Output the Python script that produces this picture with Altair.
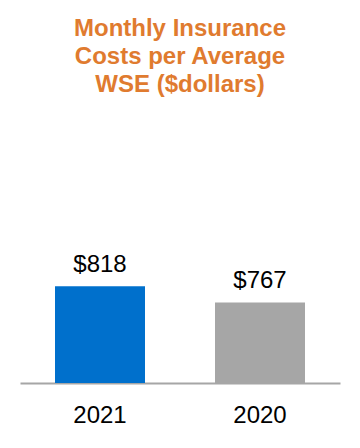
import altair as alt
import pandas as pd

years = ["2021", "2020"]
costs = [818, 767]
labels = ["$818", "$767"]
bar_colors = ["#0070CC", "#A6A6A6"]

df = pd.DataFrame({"year": years, "cost": costs, "label": labels})

x = alt.X("year:N", sort=years,
          scale=alt.Scale(paddingInner=0, paddingOuter=0),
          axis=alt.Axis(title=None, labelAngle=0, ticks=False, domainColor="#A6A6A6",
                        domainWidth=2, labelFontSize=24, labelColor="#000000",
                        labelFont="Liberation Sans", labelPadding=20))
y = alt.Y("cost:Q", scale=alt.Scale(domain=[515, 1000], zero=False, clamp=True), axis=None)

bars = alt.Chart(df).mark_bar(size=90).encode(
    x=x, y=y,
    color=alt.Color("year:N", scale=alt.Scale(domain=years, range=bar_colors), legend=None),
)
text = alt.Chart(df).mark_text(baseline="alphabetic", dy=-14, fontSize=24,
                               font="Liberation Sans", color="#000000").encode(
    x=x, y=y, text="label:N"
)

chart = (bars + text).properties(
    width=320, height=155,
    padding={"left": 12, "right": 12, "top": 9, "bottom": 3},
    title=alt.TitleParams(
        text=["Monthly Insurance", "Costs per Average", "WSE ($dollars)"],
        fontSize=24, font="Liberation Sans", fontWeight="bold", color="#E07B2F",
        lineHeight=28, anchor="middle", offset=131,
    ),
).configure_view(stroke=None)

chart.save("out.html", embed_options={"renderer": "svg", "actions": False})
